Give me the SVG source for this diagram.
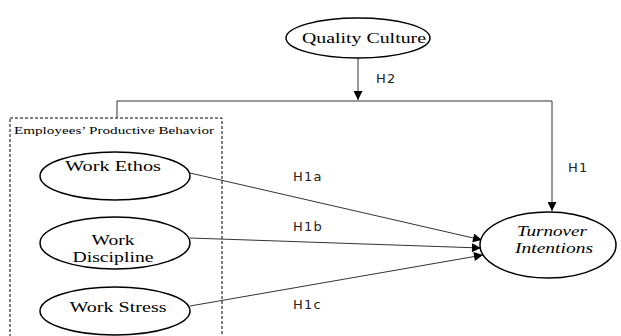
<svg xmlns="http://www.w3.org/2000/svg" width="621" height="336" viewBox="0 0 621 336">
<style>
.node ellipse{fill:#fff;stroke:#000;stroke-width:1.5}
.nt{font-family:"Liberation Serif",serif;font-size:15px;fill:#000}
.hl{font-family:"DejaVu Sans",sans-serif;font-size:13px;fill:#222;letter-spacing:1.2px}
.con{stroke:#333;stroke-width:1;fill:none}
</style>
<defs>
<marker id="ah" viewBox="0 0 10 10" refX="10" refY="5" markerWidth="10" markerHeight="9" markerUnits="userSpaceOnUse" orient="auto">
<path d="M0,0 L10,5 L0,10 z" fill="#000"/>
</marker>
</defs>
<rect x="0" y="0" width="621" height="336" fill="#fff"/>
<g id="group-box">
<rect x="10" y="118" width="212" height="230" fill="none" stroke="#000" stroke-width="1" stroke-dasharray="3,2"/>
<text x="14" y="134" font-family="Liberation Serif, serif" font-size="11" textLength="200" lengthAdjust="spacingAndGlyphs">Employees’ Productive Behavior</text>
</g>
<g id="connectors">
<line class="con" x1="358" y1="58" x2="358" y2="100" marker-end="url(#ah)"/>
<polyline class="con" points="117,118 117,101 552,101 552,211" stroke="#555" marker-end="url(#ah)"/>
<line class="con" x1="190" y1="173" x2="482" y2="240" marker-end="url(#ah)"/>
<line class="con" x1="190" y1="238" x2="481" y2="248" marker-end="url(#ah)"/>
<line class="con" x1="190" y1="306" x2="483" y2="255" marker-end="url(#ah)"/>
<text class="hl" x="376" y="83">H2</text>
<text class="hl" x="568" y="172">H1</text>
<text class="hl" x="293" y="181">H1a</text>
<text class="hl" x="293" y="231">H1b</text>
<text class="hl" x="293" y="309">H1c</text>
</g>
<g id="quality-culture" class="node">
<ellipse cx="358" cy="38" rx="72" ry="20"/>
<text class="nt" x="364" y="43" text-anchor="middle" textLength="124" lengthAdjust="spacingAndGlyphs">Quality Culture</text>
</g>
<g id="work-ethos" class="node">
<ellipse cx="115" cy="176" rx="75" ry="24"/>
<text class="nt" x="113" y="171" text-anchor="middle" textLength="96" lengthAdjust="spacingAndGlyphs">Work Ethos</text>
</g>
<g id="work-discipline" class="node">
<ellipse cx="115" cy="243" rx="75" ry="26"/>
<text class="nt" x="113" y="245" text-anchor="middle" textLength="43" lengthAdjust="spacingAndGlyphs">Work</text>
<text class="nt" x="113" y="262" text-anchor="middle" textLength="81" lengthAdjust="spacingAndGlyphs">Discipline</text>
</g>
<g id="work-stress" class="node">
<ellipse cx="115" cy="311" rx="75" ry="24"/>
<text class="nt" x="118" y="312" text-anchor="middle" textLength="97" lengthAdjust="spacingAndGlyphs">Work Stress</text>
</g>
<g id="turnover-intentions" class="node">
<ellipse cx="548" cy="245" rx="68" ry="33"/>
<text class="nt" x="552" y="236" text-anchor="middle" font-style="italic" textLength="70" lengthAdjust="spacingAndGlyphs">Turnover</text>
<text class="nt" x="554" y="253" text-anchor="middle" font-style="italic" textLength="78" lengthAdjust="spacingAndGlyphs">Intentions</text>
</g>
</svg>
